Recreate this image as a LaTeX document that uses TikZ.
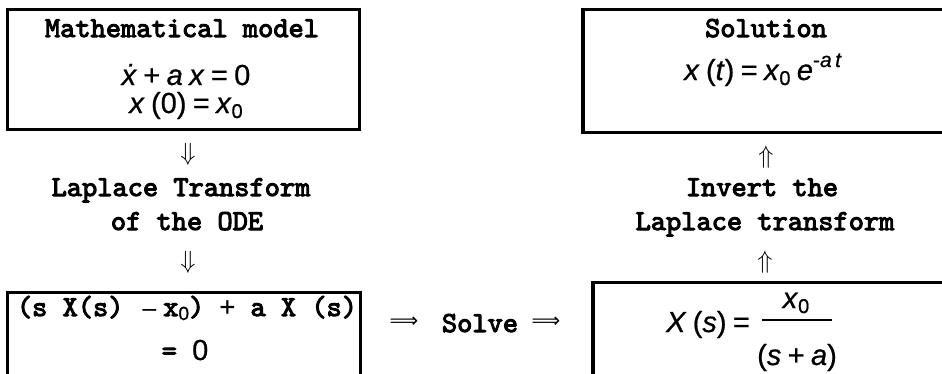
\documentclass[tikz,border=0pt]{standalone}
\usepackage{fontspec}
\newfontfamily\ari{Liberation Sans}[FakeBold=0.7]
\newfontfamily\dvs{DejaVu Sans}
\newfontfamily\cour{lmmono10-regular.otf}[FakeBold=3.5]
\tikzset{
  box/.style={draw=black, line width=3.5pt, fill=none},
  cw/.style={anchor=base, inner sep=0pt, font=\cour\fontsize{29}{34}\selectfont},
  mt/.style={anchor=base, inner sep=0pt, font=\ari\fontsize{29}{34}\selectfont},
  arr/.style={anchor=center, inner sep=0pt, font=\fontsize{23}{27}\selectfont},
  larr/.style={anchor=center, inner sep=0pt, font=\dvs\fontsize{20}{24}\selectfont},
}
\newcommand{\iv}[1]{\textit{#1}}
\newcommand{\sps}{\hspace{0.22em}}
\newcommand{\subz}{{\fontsize{20}{20}\selectfont\raisebox{-5pt}{0}}}
\begin{document}
\begin{tikzpicture}[x=1pt,y=1pt]
\useasboundingbox (0,0) rectangle (942,-373);
\clip (0,0) rectangle (942,-373);
% boxes
\draw[box] (7.5,-9.5) rectangle (359.5,-129.5);
\draw[box] (583,-9.5) rectangle (960,-132.5);
\draw[box] (7.5,-292.5) rectangle (360.5,-390);
\draw[box] (593,-282.5) rectangle (960,-390);
% box 1 text
\node[cw] (t1) at (182,-37) {Mathematical model};
\node[mt] (t2) at (186,-85) {\iv{\.{x}}\sps+\sps\iv{a}\sps\iv{x}\sps=\sps0};
\node[mt] (t3) at (186,-113) {\iv{x}\sps(0)\sps=\sps\iv{x}\subz};
% left column
\node[arr] (a1) at (188,-154) {$\Downarrow$};
\node[cw] (l1) at (181,-196) {Laplace Transform};
\node[cw] (l2) at (187,-230) {of the ODE};
\node[arr] (a2) at (188,-262) {$\Downarrow$};
% box 3 text
\node[cw] (b1) at (187,-316) {(s X(s) {\ari\fontsize{24}{30}\selectfont\,–\hspace{0.3em}}x{\ari\fontsize{19}{19}\selectfont\raisebox{-4pt}{0}}) {\ari\fontsize{27}{32}\selectfont +} a X (s)};
\node[cw] (b2) at (185,-360) {= {\ari\fontsize{29}{34}\selectfont 0}};
% middle
\node[larr] (m1) at (404,-322) {⟹};
\node[cw] (m2) at (480,-332) {Solve};
\node[larr] (m3) at (546,-322) {⟹};
% box 2 text
\node[cw] (s0) at (766,-37) {Solution};
\node[mt] (s2) at (763,-80) {\iv{x}\sps(\iv{t})\sps=\sps\iv{x}\subz\sps\iv{e}{\fontsize{21}{21}\selectfont\raisebox{13pt}{-\iv{a}\,\iv{t}}}};
% right column
\node[arr] (r1) at (766,-157) {$\Uparrow$};
\node[cw] (i1) at (762,-196) {Invert the};
\node[cw] (i2) at (765,-230) {Laplace transform};
\node[arr] (r2) at (765,-262) {$\Uparrow$};
% box 4 text
\node[mt] (x1) at (708,-332) {\iv{X}\sps(\iv{s})\sps=};
\node[mt] (x2) at (796,-308) {\iv{x}\subz};
\draw[line width=2.5pt] (762,-320) -- (832,-320);
\node[mt] (x3) at (797,-365) {(\iv{s}\sps+\sps\iv{a})};
\end{tikzpicture}
\end{document}
